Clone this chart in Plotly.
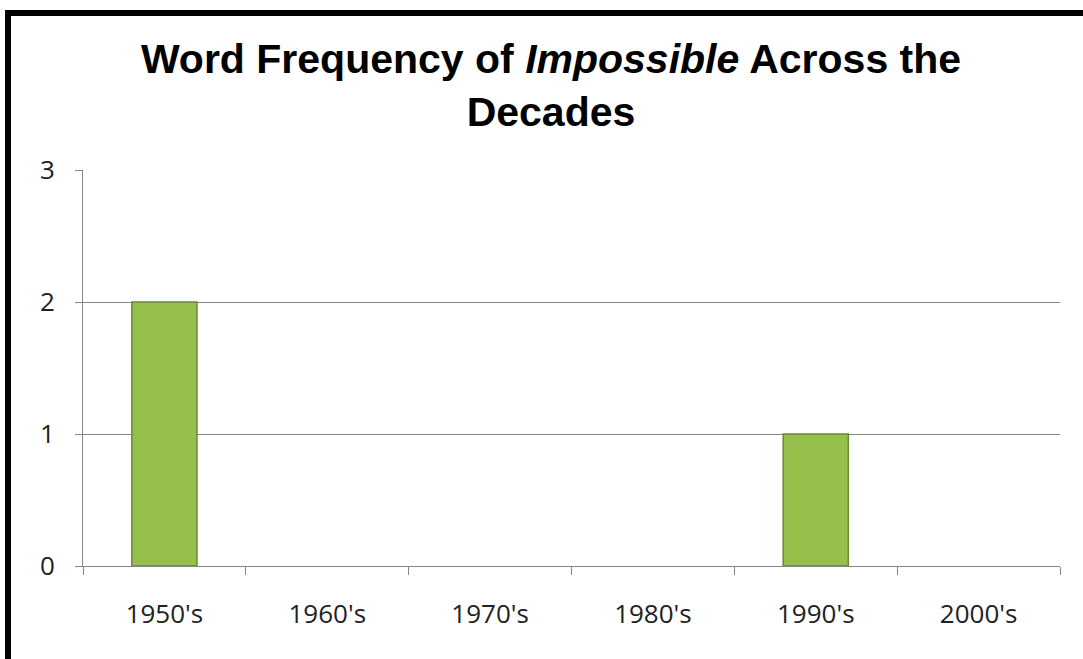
import plotly.graph_objects as go

decades = ["1950's", "1960's", "1970's", "1980's", "1990's", "2000's"]
frequency = [2, 0, 0, 0, 1, 0]
y_ticks = [0, 1, 2, 3]

W, H = 1083, 659
L, R, T, B = 83, 1060, 170, 566

def px_x(p):
    return (p - L) / (R - L)

def px_y(p):
    return (B - p) / (B - T)

fig = go.Figure()
fig.add_trace(go.Bar(
    x=decades, y=frequency,
    marker=dict(color="#96BF4C",
                line=dict(color="#6A8A2E", width=[1.5 if v > 0 else 0 for v in frequency])),
    width=0.4,
    hoverinfo="skip",
))

fig.update_layout(
    width=W, height=H,
    margin=dict(l=L, r=W - R, t=T, b=H - B, autoexpand=False),
    paper_bgcolor="white", plot_bgcolor="white",
    showlegend=False,
    title=dict(
        text="<b>Word Frequency of <i>Impossible</i> Across the<br>Decades</b>",
        font=dict(family="Liberation Sans, Arial", size=41, color="black"),
        x=551 / W, xanchor="center", xref="container",
        y=1 - 73 / H, yanchor="top", yref="container",
    ),
    font=dict(family="Open Sans, Noto Sans", size=26, color="#222"),
    xaxis=dict(
        type="category", tickson="boundaries", ticks="outside", ticklen=8,
        tickcolor="#868686", showline=True, linecolor="#868686", linewidth=1,
        showgrid=False, ticklabelstandoff=25,
    ),
    yaxis=dict(
        range=[0, 3], tickvals=y_ticks, ticks="outside", ticklen=7,
        tickcolor="#868686", showline=True, linecolor="#868686", linewidth=1,
        showgrid=True, gridcolor="#868686", gridwidth=1, zeroline=False,
        ticklabelstandoff=15,
    ),
    shapes=[dict(
        type="rect", xref="paper", yref="paper",
        x0=px_x(8), x1=px_x(1120), y0=px_y(700), y1=px_y(13),
        line=dict(color="black", width=6), fillcolor="rgba(0,0,0,0)",
        layer="above",
    )],
)

fig.write_html("out.html", config={"displayModeBar": False},
               post_script="document.body.style.margin='0';")
